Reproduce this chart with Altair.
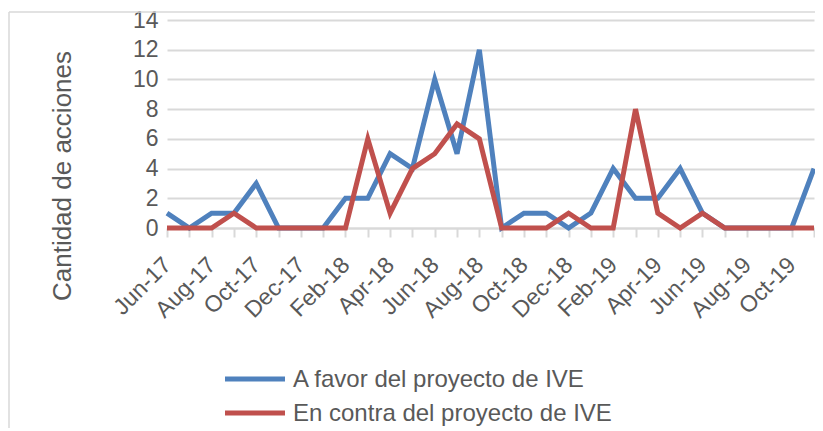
import altair as alt
import pandas as pd

months = ["Jun-17", "Jul-17", "Aug-17", "Sep-17", "Oct-17", "Nov-17", "Dec-17",
          "Jan-18", "Feb-18", "Mar-18", "Apr-18", "May-18", "Jun-18", "Jul-18",
          "Aug-18", "Sep-18", "Oct-18", "Nov-18", "Dec-18", "Jan-19", "Feb-19",
          "Mar-19", "Apr-19", "May-19", "Jun-19", "Jul-19", "Aug-19", "Sep-19",
          "Oct-19", "Nov-19"]
a_favor = [1, 0, 1, 1, 3, 0, 0, 0, 2, 2, 5, 4, 10, 5, 12,
           0, 1, 1, 0, 1, 4, 2, 2, 4, 1, 0, 0, 0, 0, 4]
en_contra = [0, 0, 0, 1, 0, 0, 0, 0, 0, 6, 1, 4, 5, 7, 6,
             0, 0, 0, 1, 0, 0, 8, 1, 0, 1, 0, 0, 0, 0, 0]
series_names = ["A favor del proyecto de IVE", "En contra del proyecto de IVE"]
series_colors = ["#4F81BD", "#C0504D"]
y_title = ["Cantidad de acciones"]
y_ticks = [0, 2, 4, 6, 8, 10, 12, 14]

rows = []
for name, vals in zip(series_names, [a_favor, en_contra]):
    for m, v in zip(months, vals):
        rows.append({"mes": m, "serie": name, "valor": v})
df = pd.DataFrame(rows)

W, H = 647, 208
FONT = "Liberation Sans"
GRAY = "#595959"
GRID = "#D9D9D9"

color_scale = alt.Scale(domain=series_names, range=series_colors)

lines = alt.Chart(df).mark_line(strokeWidth=5, strokeJoin="miter", strokeCap="butt").encode(
    x=alt.X("mes:O", sort=months, scale=alt.Scale(type="point", padding=0),
            axis=alt.Axis(title=None, labelAngle=-45, labelAlign="right", labelBaseline="middle",
                          labelExpr="test(/^(Jun|Aug|Oct|Dec|Feb|Apr)/, datum.label) ? datum.label : ''",
                          labelOverlap=False, labelFontSize=23, labelColor=GRAY, labelFont=FONT,
                          labelPadding=24, tickSize=9, tickColor=GRID, tickWidth=2,
                          domainColor=GRID, domainWidth=2, grid=False)),
    y=alt.Y("valor:Q", scale=alt.Scale(domain=[0, 14], nice=False),
            axis=alt.Axis(title=None, values=y_ticks, labelFontSize=23, labelColor=GRAY,
                          labelFont=FONT, labelPadding=9, ticks=False, domain=False,
                          gridColor=GRID, gridWidth=2)),
    color=alt.Color("serie:N", sort=series_names, scale=color_scale, legend=None),
    order=alt.Order("serie:N"),
)

# legend drawn from the series lists
legend_layers = []
for i, (name, col) in enumerate(zip(series_names, series_colors)):
    ldf = pd.DataFrame({"serie": [name]})
    yv = 359 + 34 * i
    legend_layers.append(
        alt.Chart(ldf).mark_rule(strokeWidth=5, color=col).encode(
            x=alt.value(58), x2=alt.value(118), y=alt.value(yv)))
    legend_layers.append(
        alt.Chart(ldf).mark_text(align="left", baseline="middle", fontSize=24, font=FONT,
                                 color=GRAY).encode(
            text="serie:N", x=alt.value(126), y=alt.value(yv + 1)))

title = alt.Chart(pd.DataFrame({"t": y_title})).mark_text(
    angle=270, fontSize=26, font=FONT, color=GRAY, align="center", baseline="middle"
).encode(text="t:N", x=alt.value(-104), y=alt.value(156))

border_left = alt.Chart(pd.DataFrame({"t": y_title})).mark_rule(color=GRID, strokeWidth=1.5).encode(
    x=alt.value(-158), y=alt.value(-8), y2=alt.value(H + 210))
border_top = alt.Chart(pd.DataFrame({"t": y_title})).mark_rule(color=GRID, strokeWidth=1.5).encode(
    x=alt.value(-158), x2=alt.value(W + 2), y=alt.value(-8))

chart = alt.layer(border_left, border_top, lines, title, *legend_layers).properties(
    width=W, height=H,
    autosize=alt.AutoSizeParams(type="none"),
    padding={"left": 159, "top": 12, "right": 1, "bottom": 200},
).configure_view(stroke=None)

chart.save("out.html", embed_options={"renderer": "svg", "actions": False})
